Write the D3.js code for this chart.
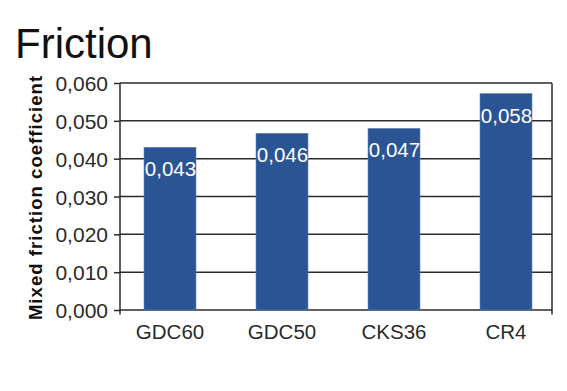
<!DOCTYPE html>
<html>
<head>
<meta charset="utf-8">
<script src="https://cdn.jsdelivr.net/npm/d3@7/dist/d3.min.js"></script>
<style>
  html, body { margin: 0; padding: 0; background: #fff; }
  svg { display: block; }
  text { font-family: "Liberation Sans", Arial, Helvetica, sans-serif; }
</style>
</head>
<body>
<svg id="chart" width="567" height="391"></svg>
<script>
const categories = ["GDC60", "GDC50", "CKS36", "CR4"];
const values = [0.0430, 0.0467, 0.0480, 0.0572];
const valueLabels = ["0,043", "0,046", "0,047", "0,058"];
const yTicks = [0, 0.01, 0.02, 0.03, 0.04, 0.05, 0.06];
const title = "Friction";
const yTitle = "Mixed friction coefficient";

(function () {
const svg = d3.select("#chart");
const pLeft = 120, pRight = 552, pTop = 83, pBottom = 310;
const ink = "#2a2a2a";
const barColor = "#2b5494";

const y = d3.scaleLinear().domain([0, 0.06]).range([pBottom, pTop]);
const x = d3.scaleBand().domain(categories).range([114, 562]).paddingInner(0.536).paddingOuter(0.268);

const fmt = d => d3.format(".3f")(d).replace(".", ",");

// gridlines
svg.append("g").selectAll("line").data(yTicks).join("line")
  .attr("x1", pLeft).attr("x2", pRight)
  .attr("y1", d => y(d)).attr("y2", d => y(d))
  .attr("stroke", ink).attr("stroke-width", 1.5);

// bars
svg.append("g").selectAll("rect").data(values).join("rect")
  .attr("x", (d, i) => x(categories[i]))
  .attr("width", x.bandwidth())
  .attr("y", d => y(d))
  .attr("height", d => y(0) - y(d))
  .attr("fill", barColor)
  .attr("stroke", "#5f80bb").attr("stroke-width", 0.6);

// value labels
svg.append("g").selectAll("text").data(values).join("text")
  .attr("x", (d, i) => x(categories[i]) + x.bandwidth() / 2 + 0.5)
  .attr("y", d => y(d) + 29)
  .attr("text-anchor", "middle")
  .attr("fill", "#fff")
  .attr("font-size", "20.5px")
  .text((d, i) => valueLabels[i]);

// y axis
const yAxis = d3.axisLeft(y).tickValues(yTicks).tickFormat(fmt).tickSize(6).tickSizeOuter(0).tickPadding(6);
const gy = svg.append("g").attr("transform", `translate(${pLeft},0)`).call(yAxis);
gy.select(".domain").remove();
gy.selectAll(".tick line").attr("stroke", ink).attr("stroke-width", 1.5);
gy.selectAll(".tick text").attr("fill", ink).attr("font-size", "21px")
  .attr("font-family", "Liberation Sans, Arial, sans-serif").attr("dy", "0.36em");

// vertical frame lines
[pLeft, pRight].forEach(xx => {
  svg.append("line").attr("x1", xx).attr("x2", xx).attr("y1", pTop).attr("y2", pBottom + 4.5)
    .attr("stroke", ink).attr("stroke-width", 1.5);
});

// x axis labels
const xAxis = d3.axisBottom(x).tickSize(0).tickPadding(14);
const gx = svg.append("g").attr("transform", `translate(0,${pBottom})`).call(xAxis);
gx.select(".domain").remove();
gx.selectAll(".tick text").attr("fill", ink).attr("font-size", "20.5px")
  .attr("font-family", "Liberation Sans, Arial, sans-serif");

// title
svg.append("text").attr("x", 15).attr("y", 58).attr("font-size", "42px").attr("fill", "#111").text(title);

// y title
svg.append("text")
  .attr("transform", `translate(41.5,${(75 + 320) / 2}) rotate(-90)`)
  .attr("text-anchor", "middle")
  .attr("font-size", "18.5px").attr("font-weight", "bold")
  .attr("letter-spacing", "1.05px")
  .attr("fill", "#111")
  .text(yTitle);
})();
</script>
</body>
</html>
